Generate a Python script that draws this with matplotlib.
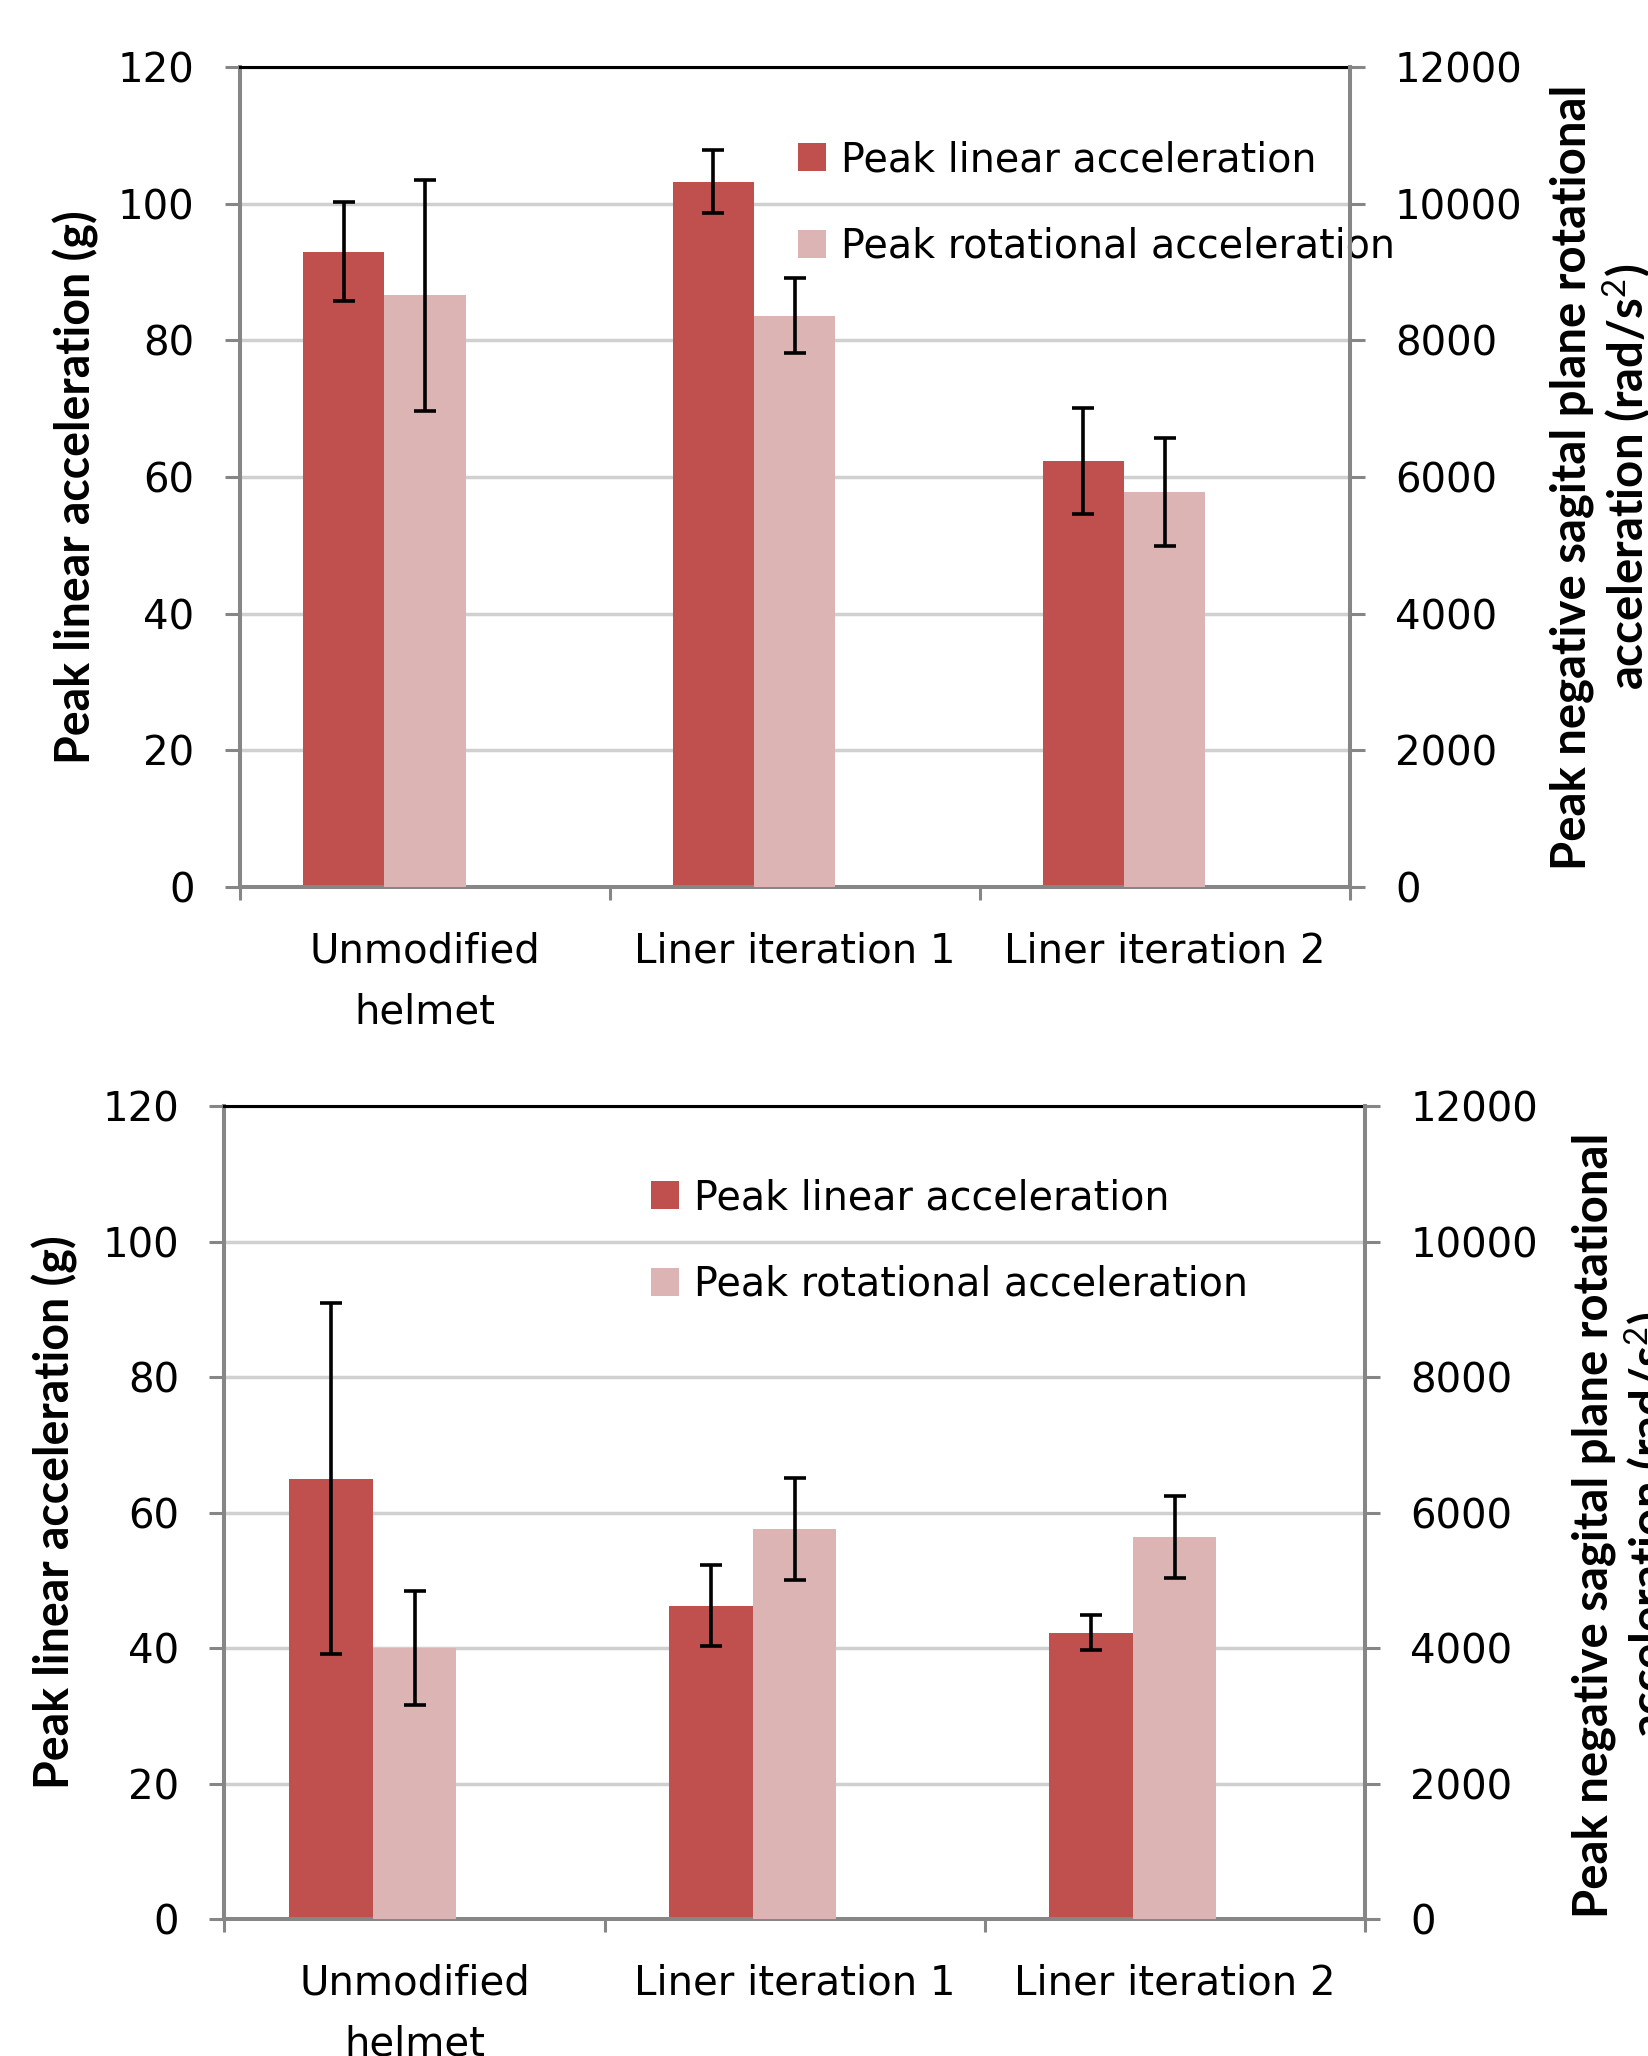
import matplotlib
matplotlib.use("Agg")
import matplotlib.pyplot as plt
from matplotlib.patches import Patch
import numpy as np

# ---------------- data ----------------
categories = ["Unmodified\nhelmet", "Liner iteration 1", "Liner iteration 2"]

top_linear = [93.0, 103.2, 62.3]
top_linear_err = [7.2, 4.6, 7.75]
top_rot = [8660, 8360, 5780]
top_rot_err = [1690, 545, 785]

bot_linear = [65.0, 46.3, 42.3]
bot_linear_err = [25.9, 6.0, 2.6]
bot_rot = [4000, 5760, 5640]
bot_rot_err = [840, 750, 600]

left_ticks = [0, 20, 40, 60, 80, 100, 120]
right_ticks = [0, 2000, 4000, 6000, 8000, 10000, 12000]

legend_labels = ["Peak linear acceleration", "Peak rotational acceleration"]
left_title = "Peak linear acceleration (g)"
right_title = "Peak negative sagital plane rotational\nacceleration (rad/s$^2$)"

# ---------------- style ----------------
W, H, DPI = 1649, 2056, 100
DARK = "#C0504D"
LIGHT = "#DDB4B4"
GRID = "#D0D0D0"
SPINE = "#868686"
TICKFONT = "DejaVu Sans"
TITLEFONT = "Lato"
FS = 29
LFS = 28.5
TFS = 33.5

plt.rcParams["font.family"] = [TICKFONT]
plt.rcParams["mathtext.fontset"] = "custom"
plt.rcParams["mathtext.rm"] = TITLEFONT
plt.rcParams["mathtext.bf"] = TITLEFONT + ":bold"

fig = plt.figure(figsize=(W / DPI, H / DPI), dpi=DPI)
fig.patch.set_facecolor("white")


def px(x0, y0, x1, y1):
    return [x0 / W, 1 - y1 / H, (x1 - x0) / W, (y1 - y0) / H]


def make_panel(rect, lin, lin_err, rot, rot_err, legend_xy, ltitle_xy, rtitle_xy):
    ax = fig.add_axes(rect)
    ax2 = ax.twinx()
    x = np.arange(len(categories))
    bw = 0.22
    ax.bar(x - bw, lin, width=bw, color=DARK, zorder=2)
    ax.errorbar(x - bw, lin, yerr=lin_err, fmt="none", ecolor="black",
                elinewidth=2.6, capsize=8, capthick=2.6, zorder=3)
    ax2.bar(x, rot, width=bw, color=LIGHT, zorder=2)
    ax2.errorbar(x, rot, yerr=rot_err, fmt="none", ecolor="black",
                 elinewidth=2.6, capsize=8, capthick=2.6, zorder=3)

    ax.set_xlim(-0.5, len(categories) - 0.5)
    ax.set_ylim(0, 120)
    ax2.set_ylim(0, 12000)
    ax.set_yticks(left_ticks)
    ax2.set_yticks(right_ticks)
    ax.set_yticklabels([str(v) for v in left_ticks], fontsize=FS, family=TICKFONT)
    ax2.set_yticklabels([str(v) for v in right_ticks], fontsize=FS, family=TICKFONT)

    ax.set_xticks(np.arange(len(categories) + 1) - 0.5)
    ax.set_xticklabels([])
    ax.set_xticks(x, minor=True)
    ax.set_xticklabels(categories, minor=True, fontsize=FS, family=TICKFONT,
                       linespacing=1.68)
    ax.tick_params(axis="x", which="major", direction="out", length=9.4,
                   width=2.2, color=SPINE)
    ax.tick_params(axis="x", which="minor", length=0, pad=32)
    ax.tick_params(axis="y", direction="out", length=10.8, width=2.2,
                   color=SPINE, pad=22)
    ax2.tick_params(axis="y", direction="out", length=10.8, width=2.2,
                    color=SPINE, pad=22)

    ax.set_axisbelow(True)
    ax.yaxis.grid(True, color=GRID, linewidth=2.5)

    for s in ["left", "bottom"]:
        ax.spines[s].set_color(SPINE)
        ax.spines[s].set_linewidth(2.9)
    ax.spines["right"].set_visible(False)
    ax.spines["top"].set_color("black")
    ax.spines["top"].set_linewidth(2.2)
    for s in ["left", "bottom", "top"]:
        ax2.spines[s].set_visible(False)
    ax2.spines["right"].set_color(SPINE)
    ax2.spines["right"].set_linewidth(2.9)

    handles = [Patch(facecolor=DARK, edgecolor="none"),
               Patch(facecolor=LIGHT, edgecolor="none")]
    leg = ax2.legend(handles, legend_labels, loc="upper left",
                     bbox_to_anchor=(legend_xy[0] / W, 1 - legend_xy[1] / H),
                     bbox_transform=fig.transFigure, frameon=False,
                     prop={"family": TICKFONT, "size": LFS},
                     handlelength=0.7, handleheight=0.72, handletextpad=0.38,
                     labelspacing=1.18, borderpad=0, borderaxespad=0)
    leg.set_zorder(2)

    fig.text(ltitle_xy[0] / W, 1 - ltitle_xy[1] / H, left_title, rotation=90,
             ha="center", va="center", fontsize=TFS, fontweight="bold",
             family=TITLEFONT)
    fig.text(rtitle_xy[0] / W, 1 - rtitle_xy[1] / H, right_title, rotation=90,
             ha="center", va="center", fontsize=TFS + 0.5, fontweight="bold",
             family=TITLEFONT, multialignment="center", linespacing=1.15)
    return ax, ax2


make_panel(px(240, 67, 1349.5, 887), top_linear, top_linear_err, top_rot,
           top_rot_err, legend_xy=(798, 140), ltitle_xy=(76, 487),
           rtitle_xy=(1602, 477))
make_panel(px(224.5, 1106, 1364.7, 1919.4), bot_linear, bot_linear_err, bot_rot,
           bot_rot_err, legend_xy=(651.5, 1178), ltitle_xy=(55, 1512),
           rtitle_xy=(1624, 1525))

fig.savefig("out.png", dpi=DPI, facecolor="white")
